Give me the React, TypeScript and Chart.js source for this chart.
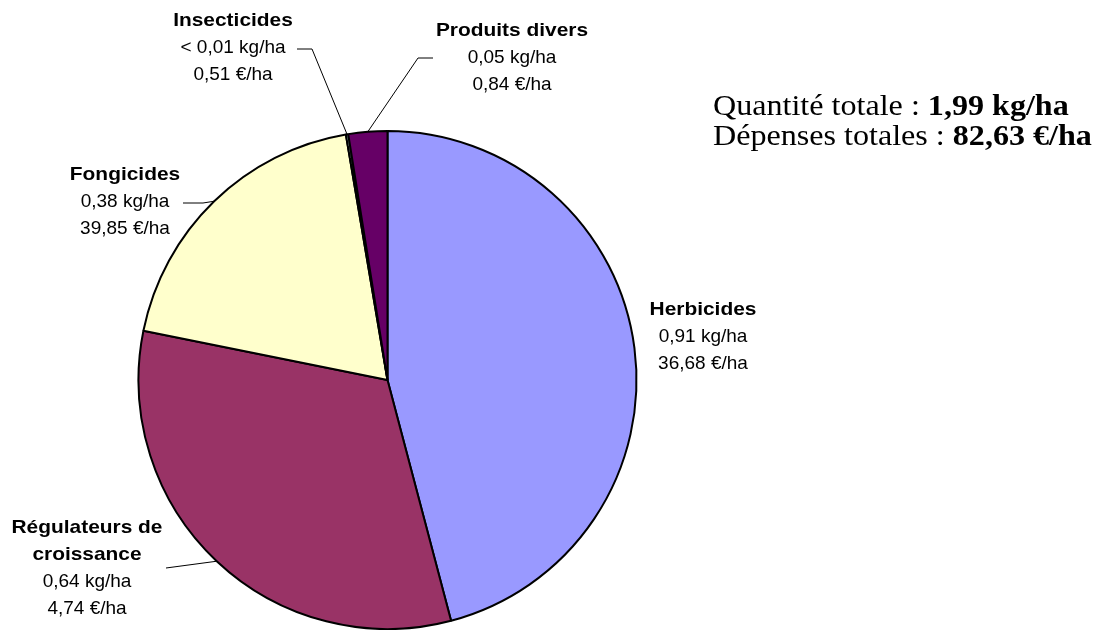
import { useEffect, useRef } from "react";
import { Chart, registerables } from "chart.js";

Chart.register(...registerables);

// Slices, in drawing order (clockwise from 12 o'clock)
const categories = ["Herbicides", "Régulateurs de croissance", "Fongicides", "Insecticides", "Produits divers"];
const nameLines = [["Herbicides"], ["Régulateurs de", "croissance"], ["Fongicides"], ["Insecticides"], ["Produits divers"]];
const quantities = [0.91, 0.64, 0.38, 0.003, 0.05]; // kg/ha
const quantityLabels = ["0,91 kg/ha", "0,64 kg/ha", "0,38 kg/ha", "< 0,01 kg/ha", "0,05 kg/ha"];
const expenseLabels = ["36,68 €/ha", "4,74 €/ha", "39,85 €/ha", "0,51 €/ha", "0,84 €/ha"];
const sliceColors = ["#9999FF", "#993366", "#FFFFCC", "#CCFFFF", "#660066"];

const totalQuantityLabel = "1,99 kg/ha";
const totalExpenseLabel = "82,63 €/ha";

// Label placement: text centre, middle of first line, and leader polyline start (joined to the slice edge)
type LabelPos = { cx: number; y0: number; leader: number[][] | null };
const labelPositions: LabelPos[] = [
  { cx: 703, y0: 310, leader: null },
  { cx: 87, y0: 528, leader: [[166, 568]] },
  { cx: 125, y0: 175, leader: [[183, 203], [203, 203]] },
  { cx: 233, y0: 21, leader: [[297, 49], [312, 49]] },
  { cx: 512, y0: 31, leader: [[433, 58], [418, 58]] },
];

const LINE_STEP = 27;
const SANS = '"Liberation Sans", Arial, sans-serif';
const SERIF = '"Liberation Serif", "Times New Roman", serif';

function drawText(
  ctx: CanvasRenderingContext2D,
  text: string,
  x: number,
  y: number,
  font: string,
  align: CanvasTextAlign,
  sx: number
) {
  ctx.save();
  ctx.font = font;
  ctx.translate(x, y);
  ctx.scale(sx, 1);
  ctx.textAlign = align;
  ctx.fillText(text, 0, 0);
  ctx.restore();
}

const sliceLabels = {
  id: "sliceLabels",
  afterDraw(chart: any) {
    const ctx: CanvasRenderingContext2D = chart.ctx;
    const arcs = chart.getDatasetMeta(0).data;
    ctx.save();
    ctx.fillStyle = "#000";
    ctx.strokeStyle = "#000";
    ctx.lineWidth = 1;
    ctx.textBaseline = "middle";

    categories.forEach((_, i) => {
      const pos = labelPositions[i];
      const lines = nameLines[i];
      let y = pos.y0;
      lines.forEach((t) => {
        drawText(ctx, t, pos.cx, y, `bold 19px ${SANS}`, "center", 1.1);
        y += LINE_STEP;
      });
      drawText(ctx, quantityLabels[i], pos.cx, y, `19px ${SANS}`, "center", 1.0);
      y += LINE_STEP;
      drawText(ctx, expenseLabels[i], pos.cx, y, `19px ${SANS}`, "center", 1.0);

      if (pos.leader) {
        const a = arcs[i].getProps(["x", "y", "startAngle", "endAngle", "outerRadius"], true);
        const mid = (a.startAngle + a.endAngle) / 2;
        const ex = a.x + Math.cos(mid) * a.outerRadius;
        const ey = a.y + Math.sin(mid) * a.outerRadius;
        ctx.beginPath();
        ctx.moveTo(pos.leader[0][0], pos.leader[0][1]);
        for (let k = 1; k < pos.leader.length; k++) ctx.lineTo(pos.leader[k][0], pos.leader[k][1]);
        ctx.lineTo(ex, ey);
        ctx.stroke();
      }
    });

    // Totals, top right
    ctx.textBaseline = "alphabetic";
    const sx = 1.07;
    const rows: [string, string, number][] = [
      ["Quantité totale : ", totalQuantityLabel, 115],
      ["Dépenses totales : ", totalExpenseLabel, 145],
    ];
    rows.forEach(([plain, bold, by]) => {
      const x0 = 713;
      ctx.font = `30px ${SERIF}`;
      const w = ctx.measureText(plain).width * sx;
      drawText(ctx, plain, x0, by, `30px ${SERIF}`, "left", sx);
      drawText(ctx, bold, x0 + w, by, `bold 30px ${SERIF}`, "left", sx);
    });
    ctx.restore();
  },
};

export default function App() {
  const canvasRef = useRef<HTMLCanvasElement | null>(null);

  useEffect(() => {
    if (!canvasRef.current) return;
    const chart = new Chart(canvasRef.current, {
      type: "pie",
      data: {
        labels: categories,
        datasets: [
          {
            data: quantities,
            backgroundColor: sliceColors,
            borderColor: "#000",
            borderWidth: 2,
          },
        ],
      },
      options: {
        animation: false,
        responsive: false,
        devicePixelRatio: 1,
        radius: 249,
        layout: { padding: { left: 0, right: 326, top: 130, bottom: 0 } },
        plugins: {
          legend: { display: false },
          tooltip: { enabled: false },
        },
      },
      plugins: [sliceLabels],
    });
    return () => chart.destroy();
  }, []);

  return (
    <div style={{ position: "fixed", left: 0, top: 0, width: 1101, height: 630, background: "#fff" }}>
      <canvas ref={canvasRef} width={1101} height={630} />
    </div>
  );
}
